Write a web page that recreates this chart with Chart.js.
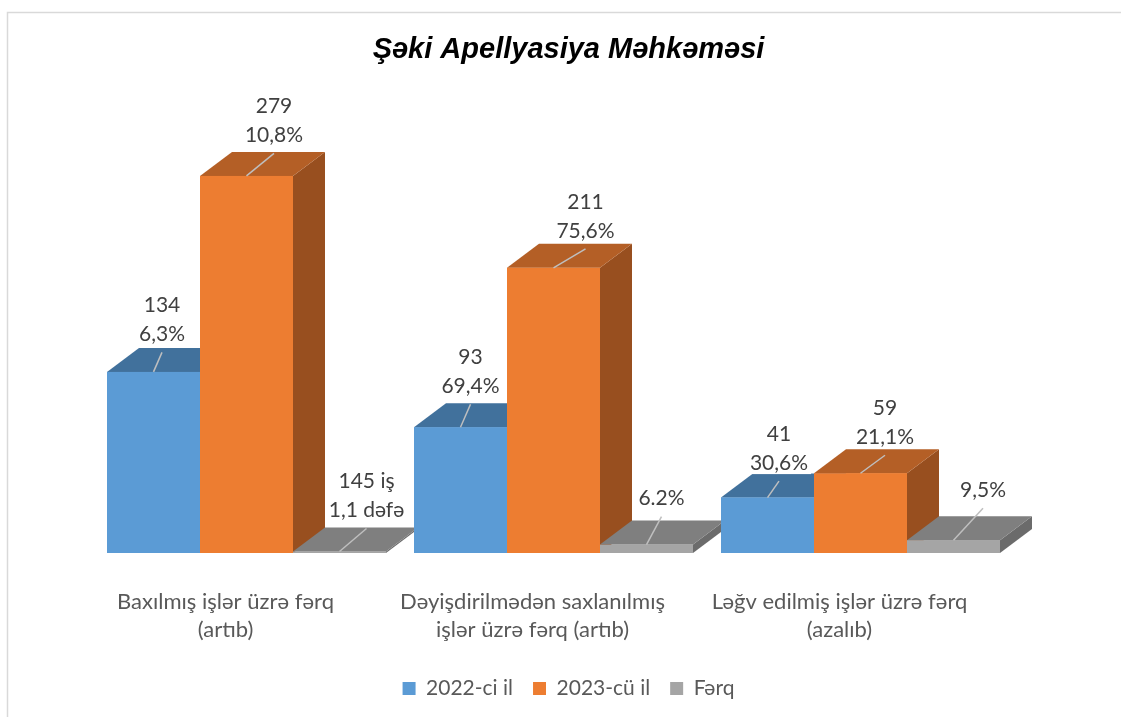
<!DOCTYPE html>
<html>
<head>
<meta charset="utf-8">
<title>Şəki Apellyasiya Məhkəməsi</title>
<script src="https://cdn.jsdelivr.net/npm/chart.js@4.4.0/dist/chart.umd.min.js"></script>
<style>
  html, body { margin: 0; padding: 0; background: #fff; }
  #chart { display: block; }
</style>
</head>
<body>
<canvas id="chart" width="1121" height="717"></canvas>
<script>
// Kateqoriyalar və seriyalar
const categories = [
  ['Baxılmış işlər üzrə fərq', '(artıb)'],
  ['Dəyişdirilmədən saxlanılmış', 'işlər üzrə fərq (artıb)'],
  ['Ləğv edilmiş işlər üzrə fərq', '(azalıb)']
];
const seriesNames = ['2022-ci il', '2023-cü il', 'Fərq'];
const values2022 = [134, 93, 41];
const values2023 = [279, 211, 59];
const valuesDiff = [1.1, 6.2, 9.5];

// Sütunların üstündəki yazılar
const labels2022 = [['134', '6,3%'], ['93', '69,4%'], ['41', '30,6%']];
const labels2023 = [['279', '10,8%'], ['211', '75,6%'], ['59', '21,1%']];
const labelsDiff = [['145 iş', '1,1 dəfə'], ['6.2%'], ['9,5%']];

// Görünüş
const FONT = 'Lato, "Open Sans", sans-serif';
const DEPTH_X = 32, DEPTH_Y = 24;
const faceColors = [
  { front: '#5B9BD5', top: '#41719C', side: '#35628A' },
  { front: '#ED7D31', top: '#B45F26', side: '#984F1F' },
  { front: '#A5A5A5', top: '#7F7F7F', side: '#6B6B6B' }
];
// yazıların yerdəyişməsi: [x, sütunun üstündən hündürlük]
const labelShift = [
  [[8.5, 37.5], [10, 41], [11.5, 34.5]],
  [[27.5, 40.5], [32, 37], [24.5, 36]],
  [[27, 41], [15, 46], [29.5, 50]]
];
const dataLabels = [labels2022, labels2023, labelsDiff];

// Çərçivə
const frame = {
  id: 'frame',
  beforeDraw(chart) {
    const ctx = chart.ctx;
    ctx.save();
    ctx.fillStyle = '#fff';
    ctx.fillRect(0, 0, chart.width, chart.height);
    ctx.strokeStyle = '#D9D9D9';
    ctx.lineWidth = 1.5;
    ctx.strokeRect(7.5, 12.5, 1300, 900);
    ctx.restore();
  }
};

// 3D sütunlar və yazılar
const bars3d = {
  id: 'bars3d',
  afterDatasetsDraw(chart) {
    const ctx = chart.ctx;
    const metas = chart.data.datasets.map((ds, d) => chart.getDatasetMeta(d));
    ctx.save();
    for (let i = 0; i < categories.length; i++) {
      metas.forEach((meta, d) => {
        const el = meta.data[i];
        const c = faceColors[d];
        const L = el.x - el.width / 2, R = el.x + el.width / 2;
        const T = el.y, B = el.base;
        // yan üz
        ctx.fillStyle = c.side;
        ctx.beginPath();
        ctx.moveTo(R, T);
        ctx.lineTo(R + DEPTH_X, T - DEPTH_Y);
        ctx.lineTo(R + DEPTH_X, B - DEPTH_Y);
        ctx.lineTo(R, B);
        ctx.closePath();
        ctx.fill();
        // üst üz
        ctx.fillStyle = c.top;
        ctx.beginPath();
        ctx.moveTo(L, T);
        ctx.lineTo(L + DEPTH_X, T - DEPTH_Y);
        ctx.lineTo(R + DEPTH_X, T - DEPTH_Y);
        ctx.lineTo(R, T);
        ctx.closePath();
        ctx.fill();
        // ön üz
        ctx.fillStyle = c.front;
        ctx.fillRect(L, T, R - L, B - T);
      });
    }

    ctx.font = '21px ' + FONT;
    ctx.textAlign = 'center';
    ctx.textBaseline = 'middle';
    metas.forEach((meta, d) => {
      meta.data.forEach((el, i) => {
        const lines = dataLabels[d][i];
        const shift = labelShift[d][i];
        const cx = el.x + shift[0];
        const lastY = el.y - shift[1];
        const firstY = lastY - (lines.length - 1) * 29;
        const w = Math.max(...lines.map(s => ctx.measureText(s).width));
        // ağ fon
        ctx.fillStyle = '#fff';
        ctx.fillRect(cx - w / 2 - 3, firstY - 13, w + 6, lastY - firstY + 24);
        // bağlayıcı xətt
        ctx.strokeStyle = '#BFBFBF';
        ctx.lineWidth = 1.5;
        ctx.beginPath();
        ctx.moveTo(el.x, el.y);
        ctx.lineTo(cx, lastY + 18);
        ctx.stroke();
        ctx.fillStyle = '#404040';
        lines.forEach((s, k) => ctx.fillText(s, cx, firstY + k * 29));
      });
    });
    ctx.restore();
  }
};

const ctx = document.getElementById('chart').getContext('2d');
new Chart(ctx, {
  type: 'bar',
  data: {
    labels: categories,
    datasets: [
      { label: seriesNames[0], data: values2022, backgroundColor: faceColors[0].front },
      { label: seriesNames[1], data: values2023, backgroundColor: faceColors[1].front },
      { label: seriesNames[2], data: valuesDiff, backgroundColor: faceColors[2].front }
    ]
  },
  options: {
    responsive: false,
    animation: false,
    events: [],
    layout: { padding: { top: 12, left: 16, right: 0, bottom: 8 } },
    datasets: {
      bar: { borderWidth: 0, categoryPercentage: 279 / 307, barPercentage: 1 }
    },
    scales: {
      x: {
        grid: { display: false, drawTicks: false },
        border: { display: false },
        ticks: {
          color: '#595959',
          font: { family: FONT, size: 22, lineHeight: 28 / 22 },
          padding: 35,
          labelOffset: -21,
          maxRotation: 0,
          autoSkip: false
        },
        afterFit(scale) { scale.height = 105; }
      },
      y: {
        min: 0,
        max: 350,
        grid: { display: false },
        border: { display: false },
        ticks: { display: false },
        afterFit(scale) { scale.width = 77; }
      },
      y2: {
        position: 'right',
        grid: { display: false },
        border: { display: false },
        ticks: { display: false },
        afterFit(scale) { scale.width = 107; }
      }
    },
    plugins: {
      title: {
        display: true,
        text: 'Şəki Apellyasiya Məhkəməsi',
        color: '#000',
        font: { family: '"Liberation Sans", Arial, sans-serif', size: 29, style: 'italic', weight: 'bold', lineHeight: 1.2 },
        padding: { top: 21, bottom: 12.2 }
      },
      legend: {
        position: 'bottom',
        labels: {
          color: '#595959',
          font: { family: FONT, size: 21 },
          boxWidth: 13,
          boxHeight: 13,
          padding: 20
        }
      },
      tooltip: { enabled: false }
    }
  },
  plugins: [frame, bars3d]
});
</script>
</body>
</html>
